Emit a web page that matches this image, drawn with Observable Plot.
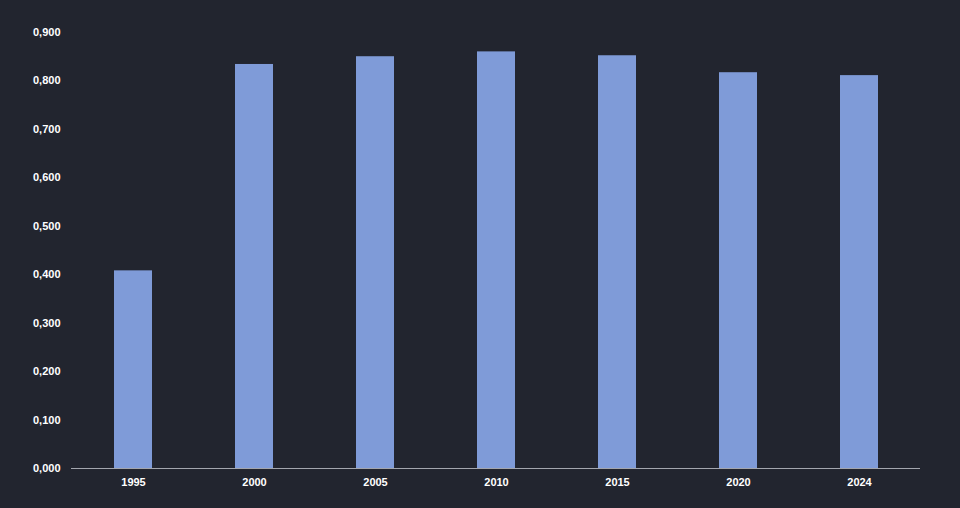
<!DOCTYPE html>
<html>
<head>
<meta charset="utf-8">
<script src="https://cdn.jsdelivr.net/npm/d3@7"></script>
<script src="https://cdn.jsdelivr.net/npm/@observablehq/plot@0.6"></script>
<style>
  html, body { margin: 0; padding: 0; background: #22252f; }
  #chart svg { display: block; }
</style>
</head>
<body>
<div id="chart"></div>
<script>
const years = ["1995", "2000", "2005", "2010", "2015", "2020", "2024"];
const values = [0.408, 0.834, 0.850, 0.860, 0.852, 0.817, 0.811];
const yTicks = [0, 0.1, 0.2, 0.3, 0.4, 0.5, 0.6, 0.7, 0.8, 0.9];

const data = years.map((y, i) => ({year: y, value: values[i]}));
const fmt = v => d3.format(".3f")(v).replace(".", ",");

const chart = Plot.plot({
  width: 960,
  height: 508,
  marginLeft: 71,
  marginRight: 40,
  marginTop: 32,
  marginBottom: 40,
  style: {
    background: "#22252f",
    color: "#ffffff",
    fontFamily: "'Liberation Sans', Arial, sans-serif",
    fontSize: "11px",
    fontWeight: "bold"
  },
  x: {domain: years, paddingInner: 0.69, paddingOuter: 0.345, label: null, tickSize: 0, tickPadding: 10},
  y: {domain: [0, 0.9], ticks: yTicks, tickFormat: fmt, label: null, tickSize: 0, tickPadding: 11},
  marks: [
    Plot.barY(data, {x: "year", y: "value", fill: "#7f9bd8"}),
    Plot.ruleY([0], {stroke: "#a3a6ae", strokeWidth: 1})
  ]
});
document.getElementById("chart").appendChild(chart);
</script>
</body>
</html>
